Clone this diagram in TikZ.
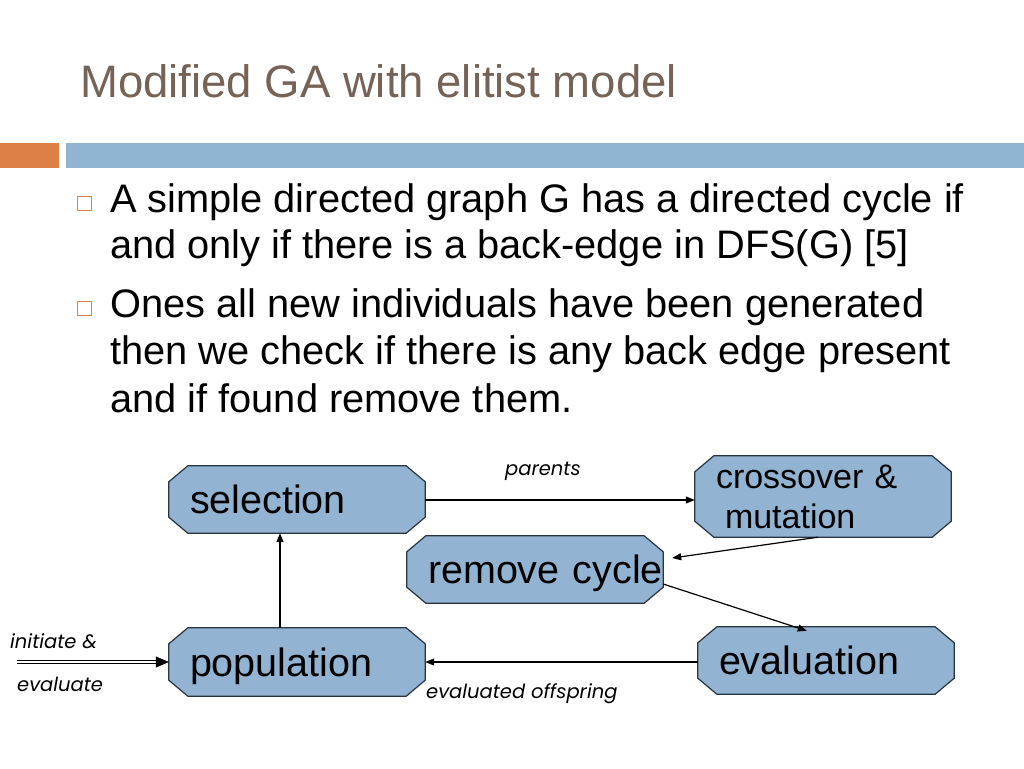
\documentclass[tikz,border=0pt]{standalone}
\usepackage{fontspec}
\setmainfont{Liberation Sans}
\newfontfamily\labelfont{Poppins}
\usetikzlibrary{arrows.meta,calc,backgrounds}
\definecolor{titlecol}{RGB}{118,99,87}
\definecolor{barblue}{RGB}{145,180,210}
\definecolor{barorange}{RGB}{221,128,71}
\definecolor{boxfill}{RGB}{146,180,210}
\definecolor{boxline}{RGB}{40,52,64}
\begin{document}
\begin{tikzpicture}[x=1pt,y=-1pt,
  basebox/.style={rectangle, draw=none, inner xsep=21pt, inner ysep=0pt,
    minimum width=256pt, text width=214pt, align=left},
  stagebox/.style={basebox, text height=28pt, text depth=0pt,
    font=\fontsize{39.5}{44}\selectfont},
  smallbox/.style={basebox, font=\fontsize{34}{40}\selectfont},
  lab/.style={inner sep=0pt, anchor=base west, font=\labelfont\itshape\fontsize{19.5}{22}\selectfont},
  conn/.style={line width=1.2pt, draw=black, -{Triangle[length=9pt,width=7pt]}},
  chamf/.style={fill=boxfill, draw=boxline, line width=1.2pt}
]
\useasboundingbox (0,0) rectangle (1024,768);
% title and bars
\node[anchor=base west, inner sep=0pt, text=titlecol, font=\fontsize{45.5}{50}\selectfont] (title) at (80,97) {Modified GA with elitist model};
\fill[barorange] (0,143) rectangle (59,168);
\fill[barblue] (66,143) rectangle (1024,168);
% bullets
\draw[barorange, line width=1.2pt] (77.5,196.5) rectangle (91.5,210.5);
\draw[barorange, line width=1.2pt] (77.5,301.5) rectangle (91.5,315.5);
\node[anchor=base west, inner sep=0pt] (b1) at (110,212)
  {\parbox[t]{900pt}{\fontsize{39.8}{46}\selectfont A simple directed graph G has a directed cycle if\\ and only if there is a back-edge in DFS(G) [5]}};
\node[anchor=base west, inner sep=0pt] (b2) at (110,317)
  {\parbox[t]{900pt}{\fontsize{39.8}{47.5}\selectfont Ones all new individuals have been generated\\ then we check if there is any back edge present\\ and if found remove them.}};
% stage nodes
\node[stagebox, minimum height=67pt] (sel) at (297,499.5) {selection};
\node[stagebox, minimum height=68pt] (pop) at (297,662) {population};
\node[stagebox, minimum height=67pt] (rem) at (535,569.5) {\mbox{remove cycle}};
\node[smallbox, minimum height=81pt] (cro) at (823,496.5) {crossover \&\\\hspace*{9pt}mutation};
\node[stagebox, minimum height=67pt] (eva) at (826,660.5) {evaluation};
\begin{scope}[on background layer]
\foreach \n in {sel,pop,rem,cro,eva}{
  \draw[chamf] ($(\n.north west)+(19,0)$) -- ($(\n.north east)+(-19,0)$)
    -- ($(\n.north east)+(0,16)$) -- ($(\n.south east)+(0,-16)$)
    -- ($(\n.south east)+(-19,0)$) -- ($(\n.south west)+(19,0)$)
    -- ($(\n.south west)+(0,-16)$) -- ($(\n.north west)+(0,16)$) -- cycle;
}
\end{scope}
% connectors
\draw[conn] (sel.east |- 0,500) -- (cro.west |- 0,500);
\coordinate (crotail) at ($(cro.south west)+(123,0)$);
\coordinate (remtip) at ($(rem.east)+(9,-11.5)$);
\draw[conn] (crotail) -- (remtip);
\coordinate (remtail) at ($(rem.east)+(0,14.5)$);
\coordinate (evatip) at ($(eva.north west)+(109,4)$);
\draw[conn] (remtail) -- (evatip);
\draw[conn] (eva.west |- pop.east) -- (pop.east);
\draw[conn] (pop.north -| 280,0) -- (sel.south -| 280,0);
\coordinate (inistart) at (17,662);
\draw[line width=1.1pt, double distance=2.6pt] (inistart) -- ($(pop.west)+(-12,0)$);
\draw[line width=0.6pt, -{Triangle[length=13pt,width=11pt]}] ($(pop.west)+(-13,0)$) -- (pop.west);
% labels
\node[lab] (lparents) at (505,475) {parents};
\node[lab] (loffspring) at (426,698) {evaluated offspring};
\node[lab] (linit1) at (10,648) {initiate \&};
\node[lab] (linit2) at (17,691) {evaluate};
\end{tikzpicture}
\end{document}
